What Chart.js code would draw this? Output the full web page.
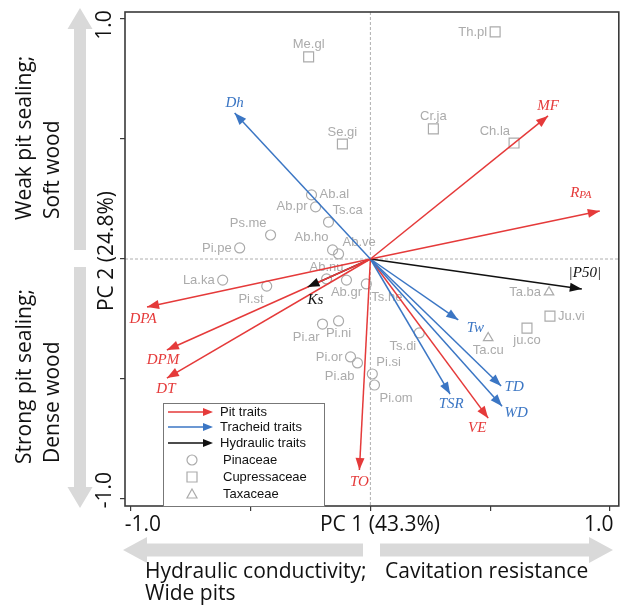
<!DOCTYPE html>
<html>
<head>
<meta charset="utf-8">
<script src="https://cdn.jsdelivr.net/npm/chart.js"></script>
<style>
  html, body { margin: 0; padding: 0; background: #fff; }
  canvas { display: block; }
</style>
</head>
<body>
<canvas id="biplot" width="627" height="607"></canvas>
<script>
// PCA biplot of pit / tracheid / hydraulic traits in conifers

// species scores
const speciesNames  = ['Me.gl', 'Se.gi', 'Ab.al', 'Ab.pr', 'Ts.ca', 'Ps.me', 'Pi.pe', 'Ab.ho', 'Ab.ve',
                       'La.ka', 'Pi.st', 'Ab.nu', 'Ab.gr', 'Ts.he', 'Pi.ar', 'Pi.ni', 'Pi.or', 'Pi.ab',
                       'Pi.si', 'Pi.om', 'Ts.di', 'Ta.ba', 'Ju.vi', 'ju.co', 'Ta.cu', 'Th.pl', 'Cr.ja', 'Ch.la'];
const speciesPC1    = [-0.258, -0.117, -0.246, -0.229, -0.175, -0.417, -0.546, -0.158, -0.133,
                       -0.617, -0.433, -0.183, -0.100, -0.017, -0.200, -0.133, -0.083, -0.054,
                        0.008,  0.017,  0.204,  0.746,  0.750,  0.654,  0.492,  0.521,  0.263,  0.600];
const speciesPC2    = [ 0.842,  0.479,  0.267,  0.217,  0.154,  0.100,  0.046,  0.038,  0.021,
                       -0.088, -0.113, -0.083, -0.088, -0.104, -0.271, -0.258, -0.408, -0.433,
                       -0.479, -0.525, -0.308, -0.138, -0.238, -0.288, -0.329,  0.946,  0.542,  0.483];
const speciesFamily = ['Cupressaceae', 'Cupressaceae', 'Pinaceae', 'Pinaceae', 'Pinaceae', 'Pinaceae', 'Pinaceae', 'Pinaceae', 'Pinaceae',
                       'Pinaceae', 'Pinaceae', 'Pinaceae', 'Pinaceae', 'Pinaceae', 'Pinaceae', 'Pinaceae', 'Pinaceae', 'Pinaceae',
                       'Pinaceae', 'Pinaceae', 'Pinaceae', 'Taxaceae', 'Cupressaceae', 'Cupressaceae', 'Taxaceae', 'Cupressaceae', 'Cupressaceae', 'Cupressaceae'];

// trait loadings
const traitNames = ['Dh', 'MF', 'RPA', '|P50|', 'Tw', 'TD', 'WD', 'TSR', 'VE', 'TO', 'DPA', 'DPM', 'DT', 'Ks'];
const traitPC1   = [-0.567, 0.742, 0.958,  0.883,  0.367,  0.546,  0.550,  0.333,  0.492, -0.046, -0.933, -0.850, -0.850, -0.263];
const traitPC2   = [ 0.608, 0.596, 0.200, -0.125, -0.254, -0.529, -0.613, -0.563, -0.663, -0.879, -0.200, -0.379, -0.496, -0.117];
const traitGroup = ['Tracheid traits', 'Pit traits', 'Pit traits', 'Hydraulic traits', 'Tracheid traits', 'Tracheid traits',
                    'Tracheid traits', 'Tracheid traits', 'Pit traits', 'Pit traits', 'Pit traits', 'Pit traits', 'Pit traits', 'Hydraulic traits'];

const axisTicks = [-1, -0.5, 0, 0.5, 1];
const familyNames = ['Pinaceae', 'Cupressaceae', 'Taxaceae'];
const groupNames = ['Pit traits', 'Tracheid traits', 'Hydraulic traits'];

// styling / label placement
const groupColor = { 'Pit traits': '#e53a3a', 'Tracheid traits': '#3b76c4', 'Hydraulic traits': '#111111' };
const familyStyle = {
  'Pinaceae':     { pointStyle: 'circle',   radius: 5 },
  'Cupressaceae': { pointStyle: 'rect',     radius: 7 },
  'Taxaceae':     { pointStyle: 'triangle', radius: 5.5 }
};
const speciesLabelSide = ['t', 't', 'r', 'l', 'tr', 'tl', 'l', 'tl', 'tr',
                          'l', 'bl', 't', 'b', 'br', 'bl', 'b', 'l', 'bl',
                          'tr', 'br', 'bl', 'l', 'r', 'b', 'b', 'l', 't', 'tl'];
const sideOffset = {
  l:  [-8, 0, 'right'],  r:  [8, 0, 'left'],
  t:  [0, -12, 'center'], b: [0, 12, 'center'],
  tl: [-4, -12, 'right'], tr: [4, -12, 'left'],
  bl: [-3, 13, 'right'],  br: [5, 13, 'left']
};
const traitLabelOffset = [[0, -10], [0, -10], [-19, -18], [3, -16], [17, 8], [13, 1], [14, 7],
                          [1, 10], [-11, 10], [0, 12], [-4, 12], [-4, 10], [-1, 11], [8, 13]];

const GREY = '#ababab';
const SANS = "'Liberation Sans', Arial, sans-serif";
const SERIF = "'Liberation Serif', 'Times New Roman', serif";
const BIG = "21px 'Open Sans', Lato, sans-serif";

// datasets
const arrowSets = traitNames.map((name, i) => ({
  type: 'line',
  label: name,
  data: [{ x: 0, y: 0 }, { x: traitPC1[i], y: traitPC2[i] }],
  borderColor: groupColor[traitGroup[i]],
  borderWidth: 1.5,
  pointRadius: 0,
  order: 0
}));
const speciesSets = familyNames.map(fam => ({
  label: fam,
  data: speciesNames.map((n, i) => ({ x: speciesPC1[i], y: speciesPC2[i], fam: speciesFamily[i] }))
                    .filter(p => p.fam === fam),
  pointStyle: familyStyle[fam].pointStyle,
  pointRadius: familyStyle[fam].radius,
  backgroundColor: 'rgba(0,0,0,0)',
  borderColor: GREY,
  borderWidth: 1.2,
  order: 1
}));

function arrowHead(ctx, x0, y0, x1, y1, len, half, color) {
  const a = Math.atan2(y1 - y0, x1 - x0);
  ctx.save();
  ctx.fillStyle = color;
  ctx.beginPath();
  ctx.moveTo(x1, y1);
  ctx.lineTo(x1 - len * Math.cos(a) + half * Math.sin(a), y1 - len * Math.sin(a) - half * Math.cos(a));
  ctx.lineTo(x1 - len * Math.cos(a) - half * Math.sin(a), y1 - len * Math.sin(a) + half * Math.cos(a));
  ctx.closePath();
  ctx.fill();
  ctx.restore();
}

function greyArrow(ctx, x0, y0, x1, y1, shaft, head, headLen) {
  const a = Math.atan2(y1 - y0, x1 - x0);
  const L = Math.hypot(x1 - x0, y1 - y0);
  ctx.save();
  ctx.translate(x0, y0);
  ctx.rotate(a);
  ctx.fillStyle = '#d9d9d9';
  ctx.beginPath();
  ctx.moveTo(0, -shaft / 2);
  ctx.lineTo(L - headLen, -shaft / 2);
  ctx.lineTo(L - headLen, -head / 2);
  ctx.lineTo(L, 0);
  ctx.lineTo(L - headLen, head / 2);
  ctx.lineTo(L - headLen, shaft / 2);
  ctx.lineTo(0, shaft / 2);
  ctx.closePath();
  ctx.fill();
  ctx.restore();
}

function vText(ctx, text, x, y, font, align) {
  ctx.save();
  ctx.translate(x, y);
  ctx.rotate(-Math.PI / 2);
  ctx.font = font;
  ctx.textAlign = align;
  ctx.textBaseline = 'middle';
  ctx.fillStyle = '#111';
  ctx.fillText(text, 0, 0);
  ctx.restore();
}

const biplotDecor = {
  id: 'biplotDecor',
  beforeDatasetsDraw(chart) {
    const { ctx, chartArea: ca, scales: { x, y } } = chart;
    ctx.save();
    ctx.strokeStyle = '#999';
    ctx.lineWidth = 0.8;
    ctx.setLineDash([3, 2]);
    ctx.beginPath();
    ctx.moveTo(x.getPixelForValue(0), ca.top);
    ctx.lineTo(x.getPixelForValue(0), ca.bottom);
    ctx.moveTo(ca.left, y.getPixelForValue(0));
    ctx.lineTo(ca.right, y.getPixelForValue(0));
    ctx.stroke();
    ctx.restore();

    // species labels (under the arrows)
    ctx.save();
    ctx.font = '13px ' + SANS;
    ctx.fillStyle = GREY;
    ctx.textBaseline = 'middle';
    speciesNames.forEach((n, i) => {
      const o = sideOffset[speciesLabelSide[i]];
      ctx.textAlign = o[2];
      ctx.fillText(n, x.getPixelForValue(speciesPC1[i]) + o[0], y.getPixelForValue(speciesPC2[i]) + o[1]);
    });
    ctx.restore();
  },
  afterDatasetsDraw(chart) {
    const { ctx, scales: { x, y } } = chart;
    const ox = x.getPixelForValue(0), oy = y.getPixelForValue(0);
    traitNames.forEach((n, i) => {
      const col = groupColor[traitGroup[i]];
      const tx = x.getPixelForValue(traitPC1[i]), ty = y.getPixelForValue(traitPC2[i]);
      arrowHead(ctx, ox, oy, tx, ty, 12, 4.5, col);
      const lx = tx + traitLabelOffset[i][0], ly = ty + traitLabelOffset[i][1];
      ctx.save();
      ctx.fillStyle = col;
      ctx.textBaseline = 'middle';
      if (n === 'RPA') {
        ctx.font = 'italic 15px ' + SERIF;
        const wR = ctx.measureText('R').width;
        ctx.font = 'italic 11px ' + SERIF;
        const wP = ctx.measureText('PA').width;
        const sx = lx - (wR + wP) / 2;
        ctx.textAlign = 'left';
        ctx.font = 'italic 15px ' + SERIF;
        ctx.fillText('R', sx, ly);
        ctx.font = 'italic 11px ' + SERIF;
        ctx.fillText('PA', sx + wR, ly + 2);
      } else {
        ctx.font = 'italic 15px ' + SERIF;
        ctx.textAlign = 'center';
        ctx.fillText(n, lx, ly);
      }
      ctx.restore();
    });
  },
  afterDraw(chart) {
    const { ctx, chartArea: ca, scales: { x, y } } = chart;
    // frame
    ctx.save();
    ctx.strokeStyle = '#3a3a3a';
    ctx.lineWidth = 1.6;
    ctx.strokeRect(ca.left, ca.top, ca.right - ca.left, ca.bottom - ca.top);
    ctx.restore();

    // legend
    const lx = 163, ly = 403, lw = 161, lh = ca.bottom - 403;
    ctx.save();
    ctx.fillStyle = '#fff';
    ctx.fillRect(lx, ly, lw, lh);
    ctx.strokeStyle = '#777';
    ctx.lineWidth = 1;
    ctx.strokeRect(lx + 0.5, ly + 0.5, lw, lh);
    ctx.font = '13px ' + SANS;
    ctx.textBaseline = 'middle';
    ctx.textAlign = 'left';
    const rowY = [412, 427, 443, 460, 477, 494];
    groupNames.forEach((g, i) => {
      const yy = rowY[i];
      ctx.strokeStyle = groupColor[g];
      ctx.lineWidth = 1.3;
      ctx.beginPath();
      ctx.moveTo(168, yy);
      ctx.lineTo(206, yy);
      ctx.stroke();
      arrowHead(ctx, 168, yy, 213, yy, 10, 4, groupColor[g]);
      ctx.fillStyle = '#111';
      ctx.fillText(g, 220, yy);
    });
    familyNames.forEach((f, i) => {
      const yy = rowY[3 + i];
      ctx.strokeStyle = GREY;
      ctx.lineWidth = 1.2;
      ctx.beginPath();
      if (f === 'Pinaceae') ctx.arc(192, yy, 5, 0, Math.PI * 2);
      else if (f === 'Cupressaceae') ctx.rect(187, yy - 5, 10, 10);
      else { ctx.moveTo(192, yy - 5); ctx.lineTo(197, yy + 4); ctx.lineTo(187, yy + 4); ctx.closePath(); }
      ctx.stroke();
      ctx.fillStyle = '#111';
      ctx.fillText(f, 223, yy);
    });
    ctx.restore();

    // axis labels
    ctx.save();
    ctx.font = BIG;
    ctx.fillStyle = '#111';
    ctx.textBaseline = 'middle';
    ctx.textAlign = 'center';
    ctx.fillText('-1.0', x.getPixelForValue(-1) + 12, 525);
    ctx.fillText('PC 1 (43.3%)', 380, 525);
    ctx.fillText('1.0', x.getPixelForValue(1) - 11, 525);
    ctx.restore();
    vText(ctx, '1.0', 105, y.getPixelForValue(1) + 6, BIG, 'center');
    vText(ctx, '-1.0', 105, y.getPixelForValue(-1) - 9, BIG, 'center');
    vText(ctx, 'PC 2 (24.8%)', 107, 251, BIG, 'center');

    // interpretation arrows and notes
    greyArrow(ctx, 80, 250, 80, 8, 12, 25, 21);
    greyArrow(ctx, 80, 267, 80, 508, 12, 25, 21);
    greyArrow(ctx, 363, 550, 123, 550, 13, 26, 24);
    greyArrow(ctx, 380, 550, 613, 550, 13, 26, 24);

    vText(ctx, 'Weak pit sealing;', 25, 220, BIG, 'left');
    vText(ctx, 'Soft wood', 53, 219, BIG, 'left');
    vText(ctx, 'Strong pit sealing;', 25, 464, BIG, 'left');
    vText(ctx, 'Dense wood', 53, 463, BIG, 'left');

    ctx.save();
    ctx.font = BIG;
    ctx.fillStyle = '#111';
    ctx.textBaseline = 'middle';
    ctx.textAlign = 'left';
    ctx.fillText('Hydraulic conductivity;', 145, 572);
    ctx.fillText('Wide pits', 145, 594);
    ctx.fillText('Cavitation resistance', 385, 572);
    ctx.restore();
  }
};

const fixedTicks = scale => { scale.ticks = axisTicks.map(v => ({ value: v })); };

new Chart(document.getElementById('biplot'), {
  type: 'scatter',
  data: { datasets: [...arrowSets, ...speciesSets] },
  options: {
    responsive: false,
    animation: false,
    events: [],
    layout: { padding: { top: 12, right: 7, left: 0, bottom: 0 } },
    plugins: { legend: { display: false }, tooltip: { enabled: false } },
    scales: {
      x: {
        type: 'linear', min: -1.025, max: 1.0375,
        afterBuildTicks: fixedTicks,
        afterFit: s => { s.height = 101; },
        ticks: { display: false },
        grid: { drawOnChartArea: false, drawTicks: true, tickLength: 5, color: '#3a3a3a', lineWidth: 1.2 },
        border: { display: false }
      },
      y: {
        type: 'linear', min: -1.029, max: 1.029,
        afterBuildTicks: fixedTicks,
        afterFit: s => { s.width = 125; },
        ticks: { display: false },
        grid: { drawOnChartArea: false, drawTicks: true, tickLength: 5, color: '#3a3a3a', lineWidth: 1.2 },
        border: { display: false }
      }
    }
  },
  plugins: [biplotDecor]
});
</script>
</body>
</html>
